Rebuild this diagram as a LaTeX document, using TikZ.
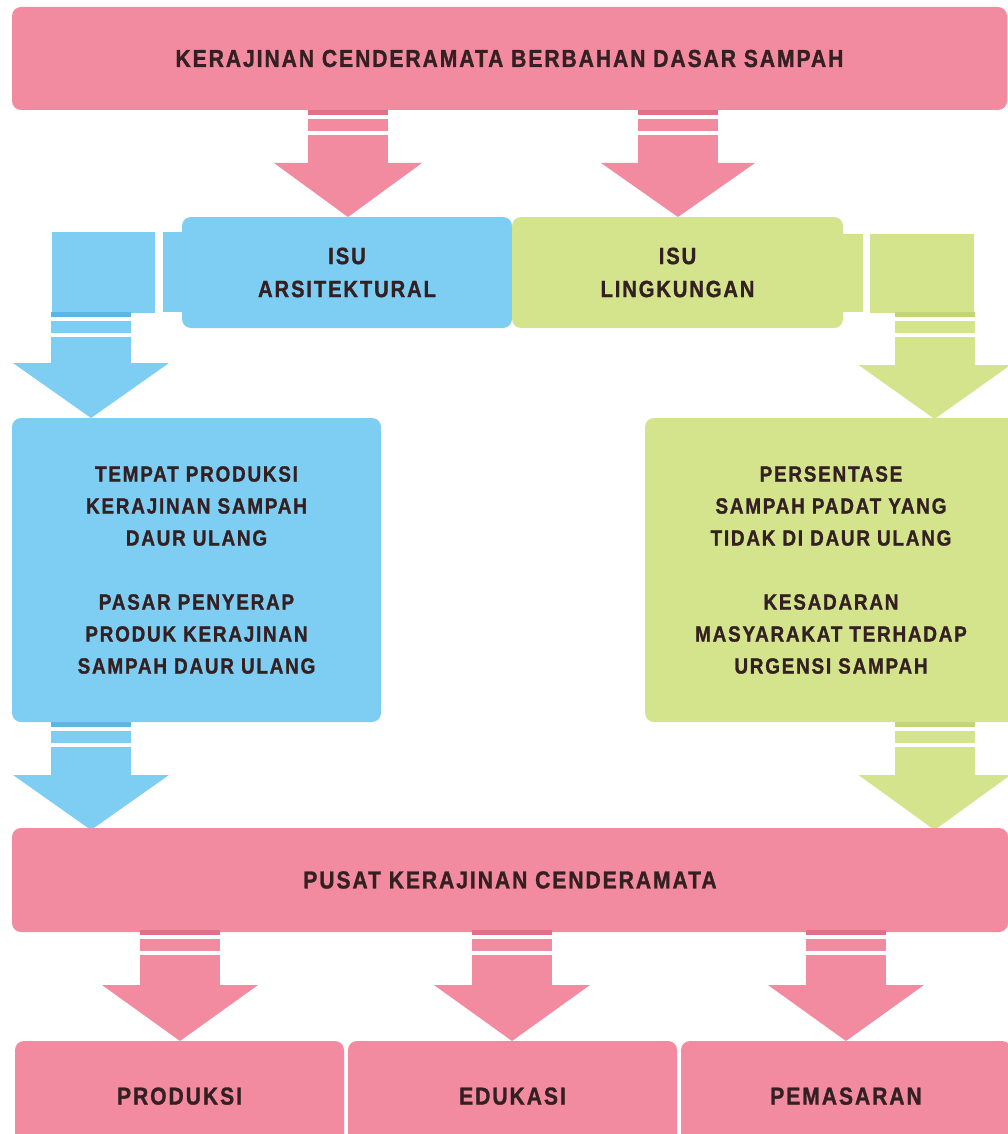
\documentclass[tikz,border=0pt]{standalone}
\usepackage{fontspec}
\newfontfamily\dfont{Liberation Sans}[FakeStretch=0.86, LetterSpace=8, BoldFeatures={FakeBold=1.2}]
\definecolor{pk}{RGB}{243,139,160}
\definecolor{pkd}{RGB}{226,112,136}
\definecolor{bl}{RGB}{125,206,242}
\definecolor{bld}{RGB}{92,182,226}
\definecolor{gr}{RGB}{212,228,140}
\definecolor{grd}{RGB}{194,212,116}
\definecolor{txt}{RGB}{52,32,34}
% #1 colour, #2 darker colour, #3 centre x, #4 shaft top, #5 head top, #6 tip, #7 half head width
\newcommand\blkarrow[7]{%
  \fill[#1] (#3-40,#4) rectangle (#3+40,#5+0.5);
  \fill[#1] (#3-#7,#5) -- (#3+#7,#5) -- (#3,#6) -- cycle;
  \fill[#2] (#3-40,#4) rectangle (#3+40,#4+5);
  \fill[white] (#3-40,#4+5) rectangle (#3+40,#4+9);
  \fill[white] (#3-40,#4+21) rectangle (#3+40,#4+25);
}
\begin{document}
\begin{tikzpicture}[x=1pt,y=-1pt,
  box/.style={rounded corners=9pt, inner sep=0pt, align=center, text=txt,
              font=\dfont\bfseries},
  big/.style={box, font=\dfont\bfseries\fontsize{22}{32}\selectfont},
  mid/.style={box, font=\dfont\bfseries\fontsize{23.5}{33}\selectfont},
  bar/.style={box, font=\dfont\bfseries\fontsize{24.5}{30}\selectfont}]
\useasboundingbox (0,0) rectangle (1008,1134);
\clip (0,0) rectangle (1008,1134);

% top title
\node[bar, fill=pk, minimum width=995pt, minimum height=103pt] (top) at (509.5,58.5)
  {KERAJINAN CENDERAMATA BERBAHAN DASAR SAMPAH};

% arrows from title
\blkarrow{pk}{pkd}{348}{110}{163}{217}{74}
\blkarrow{pk}{pkd}{678}{110}{163}{217}{77}

% elbow blocks left
\fill[bl] (52,232) rectangle (155,312.5);
\fill[bl] (163,232) rectangle (186,312);
\blkarrow{bl}{bld}{91}{312}{363}{418}{78}
% elbow blocks right
\fill[gr] (870,234) rectangle (974,312.5);
\fill[gr] (838,234) rectangle (863,312);
\blkarrow{gr}{grd}{934.5}{312}{365}{419}{76}

% issue boxes
\node[mid, fill=bl, minimum width=330pt, minimum height=111pt] (arsi) at (347,272.5)
  {ISU\\ARSITEKTURAL};
\node[mid, fill=gr, minimum width=331pt, minimum height=111pt] (ling) at (677.5,272.5)
  {ISU\\LINGKUNGAN};

% arrows to centre
\blkarrow{bl}{bld}{91}{722}{775}{830}{78}
\blkarrow{gr}{grd}{934.5}{722}{775}{830}{76}

% big boxes
\node[big, fill=bl, minimum width=369pt, minimum height=304pt] (tempat) at (196.5,570)
  {TEMPAT PRODUKSI\\KERAJINAN SAMPAH\\DAUR ULANG\\[32pt]PASAR PENYERAP\\PRODUK KERAJINAN\\SAMPAH DAUR ULANG};
\node[big, fill=gr, minimum width=372pt, minimum height=304pt] (persen) at (831,570)
  {PERSENTASE\\SAMPAH PADAT YANG\\TIDAK DI DAUR ULANG\\[32pt]KESADARAN\\MASYARAKAT TERHADAP\\URGENSI SAMPAH};

% centre bar
\node[bar, fill=pk, minimum width=996pt, minimum height=104pt] (pusat) at (510,880)
  {PUSAT KERAJINAN CENDERAMATA};

% bottom arrows
\blkarrow{pk}{pkd}{180}{930}{985}{1041}{78}
\blkarrow{pk}{pkd}{512}{930}{985}{1041}{78}
\blkarrow{pk}{pkd}{846}{930}{985}{1041}{78}

% bottom boxes
\node[bar, fill=pk, minimum width=329pt, minimum height=120pt] (prod) at (179.5,1101)
  {\raisebox{10pt}{PRODUKSI}};
\node[bar, fill=pk, minimum width=329pt, minimum height=120pt] (edu) at (512.5,1101)
  {\raisebox{10pt}{EDUKASI}};
\node[bar, fill=pk, minimum width=330pt, minimum height=120pt] (pem) at (846,1101)
  {\raisebox{10pt}{PEMASARAN}};
\end{tikzpicture}
\end{document}
